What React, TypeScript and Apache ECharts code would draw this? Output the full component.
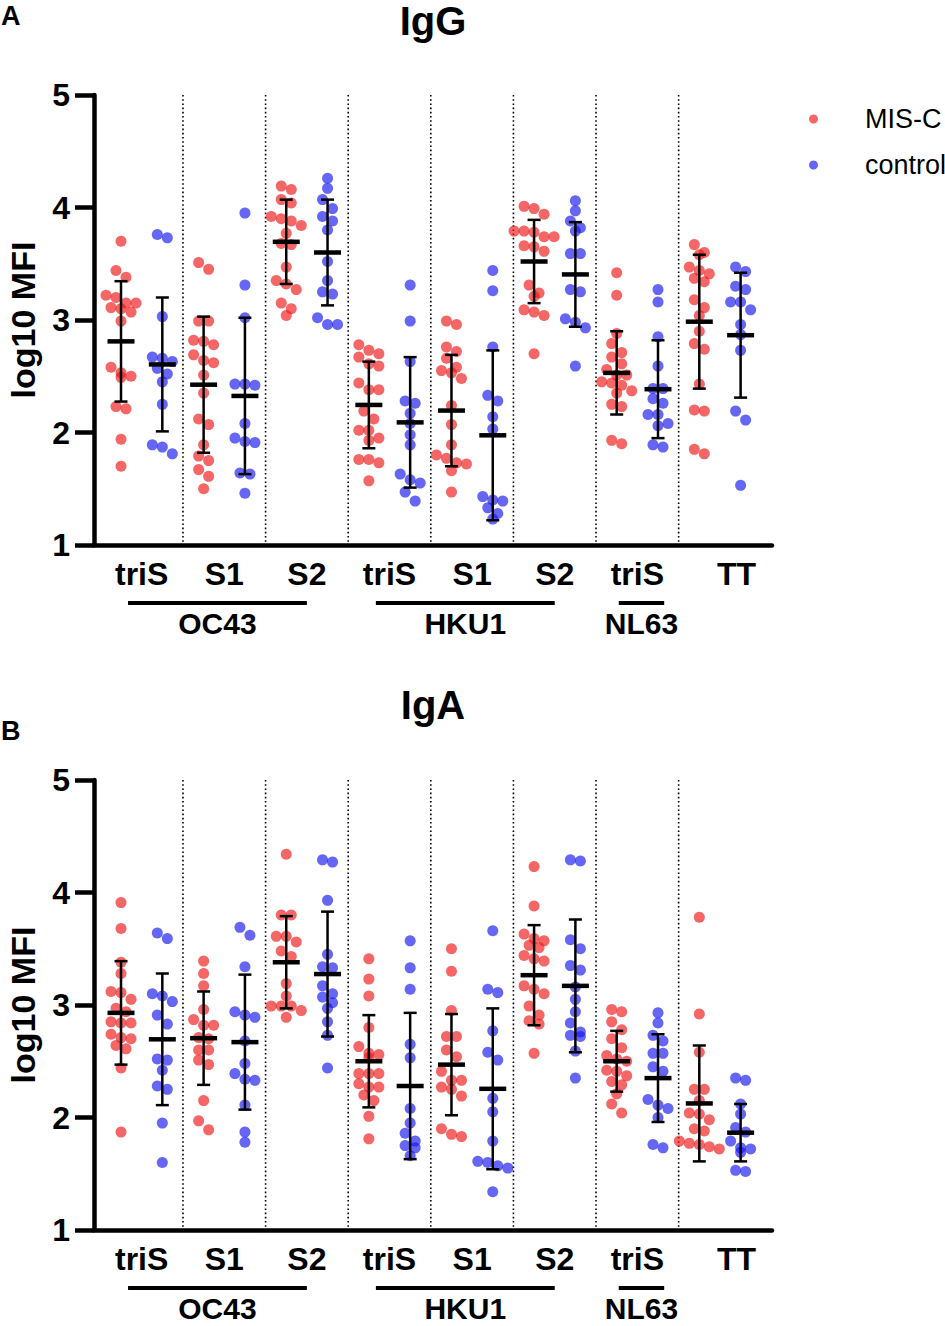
import React, { useEffect, useRef } from "react";
import * as echarts from "echarts";

// ---------- data ----------
const CAT_LABELS = ["triS", "S1", "S2", "triS", "S1", "S2", "triS", "TT"];
const FAMILIES = ["OC43", "HKU1", "NL63"];
const FAMILY_GROUPS = [[0, 2], [3, 5], [6, 6]];
const Y_TICKS = [1, 2, 3, 4, 5];
const SERIES_NAMES = ["MIS-C", "control"];

const IGG_MISC = [
  [3.70, 3.44, 3.38, 3.22, 3.20, 3.15, 3.15, 3.11, 3.10, 3.07, 2.99, 2.58, 2.53, 2.50, 2.49, 2.23, 2.21, 1.94, 1.70],
  [3.51, 3.45, 2.99, 2.99, 2.82, 2.81, 2.78, 2.69, 2.64, 2.62, 2.51, 2.35, 2.12, 2.07, 1.89, 1.79, 1.75, 1.67, 1.61, 1.50],
  [4.19, 4.16, 4.07, 4.04, 3.92, 3.90, 3.88, 3.84, 3.77, 3.68, 3.67, 3.47, 3.35, 3.32, 3.27, 3.15, 3.10, 3.04],
  [2.78, 2.73, 2.70, 2.67, 2.61, 2.59, 2.44, 2.38, 2.38, 2.19, 2.12, 2.02, 2.02, 1.95, 1.93, 1.76, 1.76, 1.73, 1.57],
  [2.99, 2.96, 2.76, 2.72, 2.66, 2.58, 2.55, 2.53, 2.48, 2.24, 2.07, 1.89, 1.80, 1.77, 1.73, 1.72, 1.66, 1.47],
  [4.01, 3.99, 3.94, 3.79, 3.79, 3.78, 3.74, 3.74, 3.66, 3.65, 3.61, 3.31, 3.24, 3.21, 3.09, 3.07, 3.04, 2.70],
  [3.42, 3.22, 2.88, 2.79, 2.71, 2.67, 2.61, 2.56, 2.51, 2.51, 2.45, 2.44, 2.42, 2.37, 2.35, 2.25, 2.23, 1.93, 1.90],
  [3.67, 3.60, 3.58, 3.47, 3.44, 3.41, 3.37, 3.34, 3.18, 3.11, 3.04, 2.90, 2.79, 2.74, 2.43, 2.20, 2.19, 1.85, 1.81],
];
const IGG_CTRL = [
  [3.76, 3.73, 3.03, 2.67, 2.66, 2.63, 2.57, 2.52, 2.45, 2.25, 1.89, 1.87, 1.81],
  [3.95, 3.31, 3.02, 2.43, 2.43, 2.42, 2.08, 1.95, 1.92, 1.91, 1.64, 1.63, 1.46],
  [4.26, 4.17, 4.07, 3.99, 3.92, 3.88, 3.80, 3.52, 3.35, 3.25, 3.23, 3.02, 2.96, 2.96],
  [3.31, 2.99, 2.63, 2.28, 2.26, 2.17, 2.08, 1.98, 1.89, 1.63, 1.58, 1.55, 1.47, 1.39],
  [3.44, 3.26, 2.76, 2.33, 2.28, 2.14, 2.03, 1.43, 1.40, 1.39, 1.33, 1.28, 1.23],
  [4.06, 3.97, 3.88, 3.82, 3.79, 3.59, 3.59, 3.27, 3.25, 3.01, 2.98, 2.93, 2.59],
  [3.27, 3.16, 2.85, 2.59, 2.39, 2.39, 2.30, 2.26, 2.16, 2.16, 2.08, 2.06, 1.89, 1.87],
  [3.47, 3.43, 3.30, 3.27, 3.16, 3.16, 3.09, 2.96, 2.87, 2.73, 2.19, 2.11, 1.53],
];
const IGA_MISC = [
  [3.91, 3.68, 3.38, 3.28, 3.12, 3.11, 3.05, 2.97, 2.94, 2.85, 2.84, 2.84, 2.74, 2.71, 2.70, 2.64, 2.61, 2.44, 1.87],
  [3.39, 3.28, 3.17, 2.96, 2.87, 2.82, 2.82, 2.71, 2.70, 2.60, 2.60, 2.51, 2.47, 2.15, 1.97, 1.89],
  [4.34, 3.80, 3.80, 3.61, 3.61, 3.56, 3.48, 3.43, 3.19, 3.08, 2.99, 2.99, 2.99, 2.95, 2.89],
  [3.41, 3.23, 3.08, 2.80, 2.63, 2.57, 2.56, 2.53, 2.39, 2.39, 2.39, 2.30, 2.27, 2.27, 2.20, 2.15, 2.01, 1.81],
  [3.50, 3.30, 2.95, 2.72, 2.72, 2.60, 2.54, 2.41, 2.33, 2.33, 2.27, 2.25, 2.19, 1.90, 1.85, 1.83],
  [4.23, 3.88, 3.63, 3.59, 3.57, 3.53, 3.51, 3.44, 3.41, 3.39, 3.17, 3.14, 3.10, 2.99, 2.91, 2.86, 2.83, 2.57],
  [2.96, 2.94, 2.85, 2.78, 2.70, 2.62, 2.55, 2.52, 2.50, 2.42, 2.41, 2.37, 2.32, 2.29, 2.21, 2.12, 2.04],
  [3.78, 2.92, 2.58, 2.25, 2.25, 2.15, 2.04, 2.03, 1.98, 1.90, 1.88, 1.79, 1.77, 1.76, 1.74, 1.72],
];
const IGA_CTRL = [
  [3.64, 3.59, 3.10, 3.08, 3.03, 2.91, 2.83, 2.52, 2.51, 2.42, 2.28, 2.25, 1.95, 1.60],
  [3.69, 3.62, 3.34, 2.94, 2.91, 2.89, 2.68, 2.48, 2.39, 2.34, 2.33, 2.11, 1.87, 1.78],
  [4.29, 4.27, 3.93, 3.45, 3.34, 3.33, 3.17, 3.10, 3.07, 3.02, 2.97, 2.85, 2.73, 2.44],
  [3.57, 3.33, 3.14, 2.65, 2.53, 2.08, 1.95, 1.86, 1.79, 1.75, 1.73, 1.66],
  [3.66, 3.14, 3.11, 2.77, 2.58, 2.51, 2.17, 2.05, 1.79, 1.61, 1.60, 1.57, 1.55, 1.34],
  [4.29, 4.28, 3.58, 3.50, 3.35, 3.31, 3.16, 3.05, 2.94, 2.84, 2.76, 2.73, 2.72, 2.59, 2.35],
  [2.93, 2.84, 2.73, 2.68, 2.57, 2.57, 2.45, 2.41, 2.16, 2.11, 2.08, 2.00, 1.76, 1.73],
  [2.35, 2.33, 2.12, 2.03, 1.91, 1.87, 1.79, 1.73, 1.72, 1.69, 1.53, 1.52],
];

// mean and SD
const IGG_MISC_MEAN = [2.81, 2.425, 3.695, 2.245, 2.195, 3.52, 2.53, 2.985];
const IGG_MISC_SD = [0.535, 0.605, 0.375, 0.385, 0.495, 0.37, 0.37, 0.595];
const IGG_CTRL_MEAN = [2.605, 2.325, 3.60, 2.09, 1.975, 3.405, 2.385, 2.865];
const IGG_CTRL_SD = [0.595, 0.695, 0.47, 0.58, 0.755, 0.465, 0.435, 0.555];
const IGA_MISC_MEAN = [2.93, 2.705, 3.38, 2.50, 2.47, 3.265, 2.50, 2.125];
const IGA_MISC_SD = [0.46, 0.415, 0.41, 0.41, 0.45, 0.445, 0.27, 0.515];
const IGA_CTRL_MEAN = [2.695, 2.67, 3.275, 2.28, 2.255, 3.17, 2.35, 1.865];
const IGA_CTRL_SD = [0.585, 0.60, 0.555, 0.65, 0.715, 0.59, 0.39, 0.255];

// ---------- layout / style constants ----------
const FONT = "'Liberation Sans', Arial, Helvetica, sans-serif";
const RED = "rgba(240,22,22,0.82)";
const BLUE = "rgba(22,22,240,0.82)";
const X_MIN = -0.654;
const X_MAX = 15.76;
const GRID_LEFT = 94;
const GRID_W = 678;
const GRID_H = 450;
const PX_PER_X = GRID_W / (X_MAX - X_MIN);
const CAT_LABEL_SHIFT = [0, 0, 0, 0, 0, 0, 0, 0.4];

function swarm(vals: number[], binH: number, stepPx: number): number[] {
  const idx = vals.map((_, i) => i).sort((a, b) => vals[b] - vals[a]);
  const off = new Array(vals.length).fill(0);
  let row: number[] = [];
  let start = 0;
  const flush = () => {
    const n = row.length;
    row.forEach((id, j) => {
      off[id] = (j - (n - 1) / 2) * stepPx;
    });
    row = [];
  };
  idx.forEach((id) => {
    if (row.length && start - vals[id] >= binH) flush();
    if (!row.length) start = vals[id];
    row.push(id);
  });
  flush();
  return off;
}

function scatterData(groups: number[][], side: number) {
  const out: number[][] = [];
  groups.forEach((vals, g) => {
    const off = swarm(vals, 0.085, 10);
    vals.forEach((v, i) => out.push([2 * g + side + off[i] / PX_PER_X, v]));
  });
  return out;
}

const groupCenter = (g: number) => 2 * g + 0.5;

const labelStyle = (text: string, size: number) => ({
  text,
  fontSize: size,
  fontWeight: "bold",
  fontFamily: FONT,
  fill: "#000",
  align: "center",
  verticalAlign: "middle",
  lineHeight: 24,
});

function buildPanel(i: number, p: any) {
  const axisIdx = { xAxisIndex: i, yAxisIndex: i };
  const series: any[] = [];
  series.push({
    type: "custom",
    ...axisIdx,
    clip: false,
    silent: true,
    z: 1,
    data: [1.5, 3.5, 5.5, 7.5, 9.5, 11.5, 13.5].map((x) => [x]),
    renderItem: (_: any, api: any) => {
      const x = api.value(0);
      const t = api.coord([x, 5]);
      const b = api.coord([x, 1]);
      return {
        type: "line",
        shape: { x1: t[0], y1: t[1], x2: b[0], y2: b[1] - 2 },
        style: { stroke: "#000", lineWidth: 1.6, lineDash: [1.6, 2.6] },
      };
    },
  });
  series.push({
    type: "scatter",
    name: SERIES_NAMES[0],
    ...axisIdx,
    symbol: "circle",
    symbolSize: 11,
    itemStyle: { color: RED },
    data: scatterData(p.misc, 0),
    z: 2,
  });
  series.push({
    type: "scatter",
    name: SERIES_NAMES[1],
    ...axisIdx,
    symbol: "circle",
    symbolSize: 11,
    itemStyle: { color: BLUE },
    data: scatterData(p.ctrl, 1),
    z: 2,
  });
  const ebData: number[][] = [];
  p.miscMean.forEach((m: number, g: number) => ebData.push([2 * g, m, p.miscSd[g]]));
  p.ctrlMean.forEach((m: number, g: number) => ebData.push([2 * g + 1, m, p.ctrlSd[g]]));
  series.push({
    type: "custom",
    ...axisIdx,
    clip: false,
    silent: true,
    z: 3,
    data: ebData,
    renderItem: (_: any, api: any) => {
      const x = api.value(0);
      const m = api.value(1);
      const sd = api.value(2);
      const c = api.coord([x, m]);
      const t = api.coord([x, m + sd]);
      const b = api.coord([x, m - sd]);
      const st = { stroke: "#000", lineWidth: 2.5 };
      return {
        type: "group",
        children: [
          { type: "line", shape: { x1: c[0], y1: t[1], x2: c[0], y2: b[1] }, style: st },
          { type: "line", shape: { x1: c[0] - 6.5, y1: t[1], x2: c[0] + 6.5, y2: t[1] }, style: st },
          { type: "line", shape: { x1: c[0] - 6.5, y1: b[1], x2: c[0] + 6.5, y2: b[1] }, style: st },
          { type: "line", shape: { x1: c[0] - 13.5, y1: c[1], x2: c[0] + 13.5, y2: c[1] }, style: { stroke: "#000", lineWidth: 4.5 } },
        ],
      };
    },
  });
  // category labels under the axis
  series.push({
    type: "custom",
    ...axisIdx,
    clip: false,
    silent: true,
    data: CAT_LABELS.map((_, g) => [groupCenter(g) + CAT_LABEL_SHIFT[g], g]),
    renderItem: (_: any, api: any) => {
      const pt = api.coord([api.value(0), 1]);
      return { type: "text", x: pt[0], y: pt[1] + 29, style: labelStyle(CAT_LABELS[api.value(1)], 32) };
    },
  });
  // family underline and name
  series.push({
    type: "custom",
    ...axisIdx,
    clip: false,
    silent: true,
    data: FAMILY_GROUPS.map(([a, b], f) =>
      a === b
        ? [groupCenter(a) + 0.1 - 0.55, groupCenter(a) + 0.1 + 0.55, f]
        : [groupCenter(a) - 0.33, groupCenter(b), f]
    ),
    renderItem: (_: any, api: any) => {
      const s = api.coord([api.value(0), 1]);
      const e = api.coord([api.value(1), 1]);
      const y = s[1];
      return {
        type: "group",
        children: [
          { type: "line", shape: { x1: s[0], y1: y + 58, x2: e[0], y2: y + 58 }, style: { stroke: "#000", lineWidth: 4 } },
          { type: "text", x: (s[0] + e[0]) / 2, y: y + 78, style: labelStyle(FAMILIES[api.value(2)], 30) },
        ],
      };
    },
  });

  const grid = {
    left: GRID_LEFT,
    top: p.top,
    width: GRID_W,
    height: GRID_H,
    containLabel: false,
    outerBoundsMode: "none",
  };
  const xAxis = {
    gridIndex: i,
    type: "value",
    min: X_MIN,
    max: X_MAX,
    axisLine: { show: true, onZero: false, lineStyle: { color: "#000", width: 4.5 } },
    axisTick: { show: false },
    axisLabel: { show: false },
    splitLine: { show: false },
  };
  const yAxis = {
    gridIndex: i,
    type: "value",
    min: Y_TICKS[0],
    max: Y_TICKS[Y_TICKS.length - 1],
    interval: 1,
    name: "log10 MFI",
    nameLocation: "middle",
    nameGap: 58,
    nameTextStyle: { fontSize: 34, fontWeight: "bold", color: "#000", fontFamily: FONT, lineHeight: 26 },
    axisLine: { show: true, onZero: false, lineStyle: { color: "#000", width: 4.5 } },
    axisTick: { show: true, length: 19, lineStyle: { color: "#000", width: 4.5 } },
    axisLabel: { fontSize: 32, fontWeight: "bold", color: "#000", margin: 24, fontFamily: FONT },
    splitLine: { show: false },
  };
  return { grid, xAxis, yAxis, series };
}

const PANELS = [
  { title: "IgG", letter: "A", top: 95, titleY: 21, letterY: 16, misc: IGG_MISC, ctrl: IGG_CTRL, miscMean: IGG_MISC_MEAN, miscSd: IGG_MISC_SD, ctrlMean: IGG_CTRL_MEAN, ctrlSd: IGG_CTRL_SD },
  { title: "IgA", letter: "B", top: 780, titleY: 705, letterY: 731, misc: IGA_MISC, ctrl: IGA_CTRL, miscMean: IGA_MISC_MEAN, miscSd: IGA_MISC_SD, ctrlMean: IGA_CTRL_MEAN, ctrlSd: IGA_CTRL_SD },
];

export default function App() {
  const ref = useRef<HTMLDivElement>(null);
  useEffect(() => {
    if (!ref.current) return;
    const chart = echarts.init(ref.current, undefined, { renderer: "svg" });
    const built = PANELS.map((p, i) => buildPanel(i, p));
    const graphic: any[] = [];
    PANELS.forEach((p) => {
      graphic.push({
        type: "text",
        x: 433,
        y: p.titleY,
        style: { text: p.title, fontSize: 40, fontWeight: "bold", fontFamily: FONT, fill: "#000", align: "center", verticalAlign: "middle" },
      });
      graphic.push({
        type: "text",
        x: 1,
        y: p.letterY,
        style: { text: p.letter, fontSize: 27, fontWeight: "bold", fontFamily: FONT, fill: "#000", align: "left", verticalAlign: "middle" },
      });
    });
    chart.setOption({
      animation: false,
      backgroundColor: "#fff",
      textStyle: { fontFamily: FONT },
      legend: {
        data: SERIES_NAMES,
        orient: "vertical",
        left: 809,
        top: 104,
        padding: 0,
        itemWidth: 9,
        itemHeight: 9,
        itemGap: 16,
        icon: "circle",
        selectedMode: false,
        textStyle: { fontSize: 27, color: "#000", fontFamily: FONT, lineHeight: 30, padding: [0, 0, 0, 42] },
      },
      grid: built.map((b) => b.grid),
      xAxis: built.map((b) => b.xAxis),
      yAxis: built.map((b) => b.yAxis),
      series: built.flatMap((b) => b.series),
      graphic,
    });
    return () => chart.dispose();
  }, []);
  return <div ref={ref} style={{ position: "absolute", left: 0, top: 0, width: 945, height: 1326 }} />;
}
